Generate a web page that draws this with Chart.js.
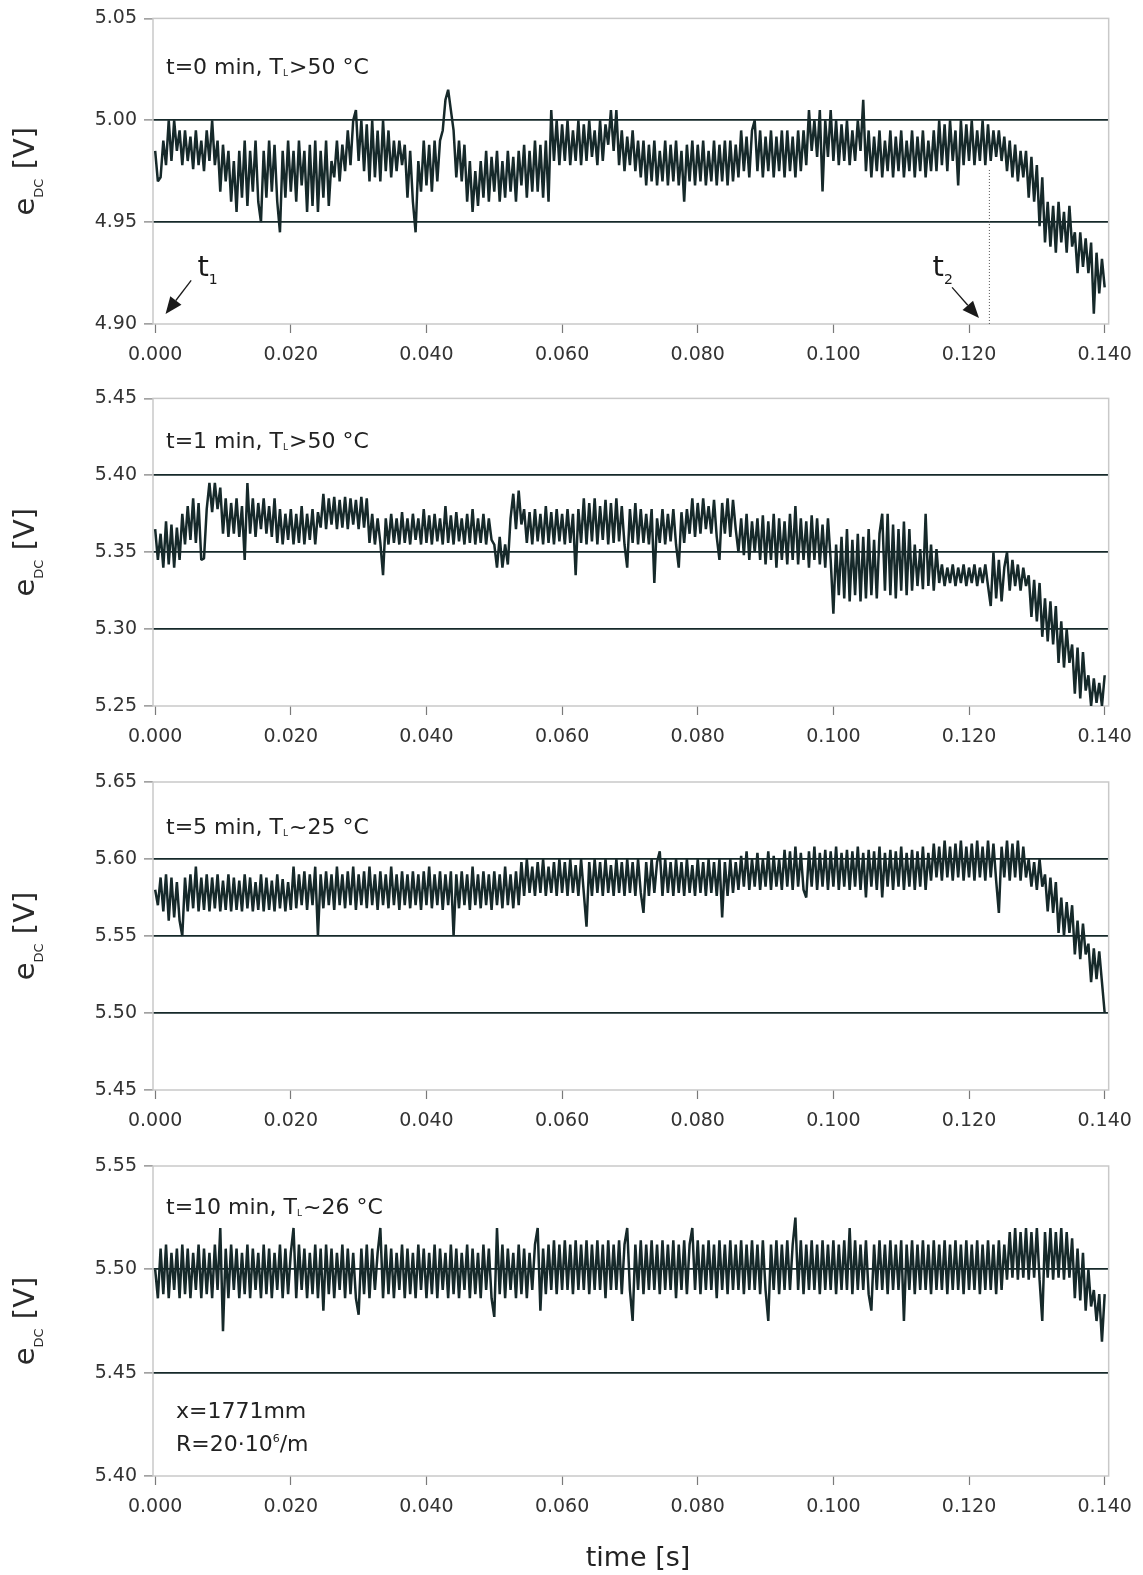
<!DOCTYPE html>
<html><head><meta charset="utf-8">
<script src="https://cdn.jsdelivr.net/npm/chart.js@4.4.1/dist/chart.umd.min.js"></script>
<style>
html,body{margin:0;padding:0;background:#fff;}
body{width:1143px;height:1575px;position:relative;overflow:hidden;}
canvas{position:absolute;left:0;}
</style></head><body>
<canvas id="c1"></canvas>
<canvas id="c2"></canvas>
<canvas id="c3"></canvas>
<canvas id="c4"></canvas>
<script>
// ---------------- data ----------------
const sampleInterval = 0.0004; // s between plotted samples
const xTickValues = [0.000, 0.020, 0.040, 0.060, 0.080, 0.100, 0.120, 0.140];
const yTicksPanel1 = [4.90, 4.95, 5.00, 5.05];
const yTicksPanel2 = [5.25, 5.30, 5.35, 5.40, 5.45];
const yTicksPanel3 = [5.45, 5.50, 5.55, 5.60, 5.65];
const yTicksPanel4 = [5.40, 5.45, 5.50, 5.55];

const panel1Values = [
4.985,4.970,4.972,4.990,4.978,5.000,4.980,5.000,4.985,4.995,
4.978,4.995,4.980,4.992,4.976,4.995,4.978,4.990,4.975,4.995,
4.980,5.000,4.978,4.990,4.965,4.988,4.970,4.985,4.960,4.980,
4.955,4.985,4.962,4.990,4.958,4.985,4.965,4.990,4.960,4.950,
4.985,4.962,4.990,4.965,4.988,4.960,4.945,4.985,4.962,4.990,
4.965,4.985,4.960,4.990,4.968,4.985,4.955,4.988,4.958,4.990,
4.955,4.985,4.962,4.990,4.958,4.980,4.972,4.990,4.970,4.988,
4.975,4.995,4.978,5.000,5.005,4.980,5.000,4.975,4.998,4.970,
5.000,4.972,4.995,4.970,5.000,4.975,4.995,4.972,4.990,4.975,
4.990,4.978,4.988,4.962,4.985,4.960,4.945,4.980,4.965,4.990,
4.968,4.988,4.965,4.990,4.970,4.990,4.995,5.010,5.015,5.005,
4.995,4.972,4.990,4.970,4.988,4.960,4.980,4.955,4.975,4.958,
4.980,4.962,4.985,4.960,4.982,4.965,4.985,4.960,4.980,4.962,
4.985,4.965,4.982,4.960,4.985,4.968,4.988,4.962,4.985,4.965,
4.990,4.965,4.988,4.962,4.990,4.960,5.005,4.980,5.000,4.978,
4.998,4.980,5.000,4.978,4.995,4.980,5.000,4.978,4.998,4.980,
5.000,4.982,4.995,4.978,5.000,4.980,4.998,4.988,5.005,4.985,
5.005,4.978,4.995,4.975,4.992,4.978,4.995,4.975,4.990,4.972,
4.990,4.968,4.988,4.970,4.990,4.968,4.985,4.970,4.990,4.968,
4.988,4.970,4.990,4.968,4.985,4.960,4.988,4.970,4.990,4.968,
4.988,4.970,4.990,4.968,4.985,4.970,4.990,4.968,4.988,4.970,
4.990,4.968,4.990,4.970,4.988,4.972,4.995,4.975,4.992,4.972,
4.995,5.000,4.975,4.995,4.972,4.992,4.975,4.995,4.972,4.992,
4.975,4.995,4.972,4.995,4.975,4.992,4.972,4.995,4.975,4.995,
4.978,5.005,4.985,5.000,4.982,5.005,4.965,5.000,4.982,5.005,
4.980,5.000,4.978,4.998,4.980,5.000,4.978,4.995,4.980,5.000,
4.985,5.010,4.975,4.995,4.972,4.992,4.975,4.995,4.972,4.990,
4.975,4.995,4.972,4.992,4.975,4.995,4.972,4.990,4.975,4.995,
4.972,4.992,4.975,4.995,4.972,4.990,4.975,4.995,4.975,5.000,
4.978,4.998,4.975,5.000,4.980,4.995,4.968,5.000,4.978,4.998,
4.980,5.000,4.978,4.995,4.980,5.000,4.978,4.998,4.980,4.995,
4.982,4.995,4.980,4.992,4.975,4.990,4.972,4.988,4.970,4.985,
4.972,4.985,4.962,4.982,4.960,4.978,4.948,4.972,4.940,4.960,
4.938,4.958,4.935,4.960,4.940,4.955,4.935,4.958,4.938,4.945,
4.925,4.945,4.928,4.942,4.925,4.940,4.905,4.935,4.915,4.932,
4.918
];

const panel2Values = [
5.365,5.345,5.362,5.340,5.370,5.342,5.368,5.340,5.366,5.345,
5.375,5.355,5.380,5.358,5.385,5.356,5.382,5.345,5.346,5.378,
5.395,5.376,5.395,5.378,5.392,5.362,5.385,5.360,5.382,5.362,
5.385,5.360,5.380,5.345,5.395,5.362,5.385,5.360,5.382,5.365,
5.385,5.362,5.380,5.360,5.385,5.356,5.378,5.355,5.375,5.358,
5.378,5.355,5.375,5.356,5.380,5.355,5.375,5.358,5.378,5.355,
5.376,5.366,5.388,5.365,5.385,5.368,5.386,5.365,5.384,5.366,
5.386,5.365,5.385,5.368,5.384,5.365,5.386,5.366,5.385,5.356,
5.375,5.355,5.372,5.356,5.335,5.372,5.355,5.375,5.356,5.372,
5.355,5.376,5.356,5.372,5.355,5.375,5.358,5.372,5.355,5.378,
5.356,5.374,5.355,5.375,5.357,5.372,5.355,5.380,5.356,5.374,
5.355,5.376,5.357,5.372,5.355,5.375,5.356,5.378,5.355,5.372,
5.356,5.375,5.355,5.372,5.358,5.355,5.340,5.360,5.340,5.355,
5.342,5.372,5.388,5.365,5.390,5.368,5.378,5.356,5.376,5.355,
5.378,5.357,5.375,5.355,5.380,5.356,5.376,5.355,5.378,5.357,
5.375,5.355,5.378,5.356,5.375,5.335,5.378,5.356,5.385,5.355,
5.382,5.357,5.385,5.355,5.380,5.358,5.384,5.355,5.382,5.356,
5.385,5.357,5.380,5.355,5.340,5.378,5.356,5.382,5.355,5.378,
5.356,5.375,5.355,5.378,5.330,5.372,5.356,5.378,5.355,5.375,
5.357,5.378,5.355,5.340,5.376,5.356,5.378,5.362,5.385,5.360,
5.382,5.362,5.385,5.365,5.380,5.362,5.384,5.360,5.345,5.382,
5.362,5.385,5.360,5.384,5.365,5.350,5.372,5.348,5.375,5.345,
5.370,5.350,5.372,5.345,5.374,5.342,5.370,5.345,5.375,5.340,
5.372,5.345,5.370,5.342,5.375,5.345,5.380,5.342,5.372,5.345,
5.370,5.340,5.374,5.345,5.372,5.342,5.368,5.340,5.372,5.345,
5.310,5.355,5.322,5.360,5.320,5.365,5.318,5.358,5.322,5.362,
5.318,5.360,5.320,5.365,5.322,5.358,5.320,5.362,5.375,5.325,
5.375,5.322,5.368,5.320,5.365,5.325,5.370,5.322,5.365,5.325,
5.355,5.328,5.352,5.326,5.375,5.328,5.355,5.325,5.352,5.330,
5.342,5.328,5.340,5.330,5.342,5.328,5.340,5.330,5.342,5.328,
5.340,5.330,5.342,5.328,5.340,5.330,5.342,5.328,5.315,5.350,
5.320,5.345,5.318,5.340,5.350,5.325,5.345,5.328,5.342,5.325,
5.340,5.328,5.335,5.308,5.332,5.305,5.330,5.295,5.320,5.292,
5.318,5.290,5.315,5.278,5.305,5.275,5.300,5.278,5.290,5.258,
5.288,5.255,5.285,5.260,5.270,5.250,5.268,5.252,5.265,5.250,
5.270
];

const panel3Values = [
5.580,5.570,5.588,5.566,5.590,5.560,5.588,5.562,5.585,5.560,
5.550,5.588,5.566,5.590,5.568,5.595,5.566,5.588,5.567,5.590,
5.566,5.588,5.568,5.590,5.566,5.586,5.567,5.590,5.566,5.588,
5.567,5.586,5.566,5.590,5.568,5.588,5.566,5.585,5.567,5.590,
5.566,5.588,5.567,5.586,5.566,5.590,5.568,5.587,5.566,5.585,
5.567,5.595,5.568,5.590,5.570,5.592,5.567,5.590,5.570,5.595,
5.550,5.590,5.568,5.592,5.570,5.590,5.567,5.595,5.570,5.590,
5.568,5.592,5.570,5.595,5.567,5.590,5.570,5.592,5.568,5.595,
5.570,5.590,5.567,5.592,5.570,5.590,5.568,5.595,5.570,5.590,
5.567,5.592,5.570,5.590,5.568,5.592,5.570,5.590,5.567,5.592,
5.570,5.595,5.568,5.590,5.570,5.592,5.567,5.590,5.570,5.592,
5.550,5.590,5.568,5.592,5.570,5.590,5.567,5.595,5.570,5.590,
5.568,5.592,5.570,5.590,5.567,5.592,5.570,5.590,5.568,5.595,
5.570,5.590,5.568,5.592,5.570,5.598,5.576,5.600,5.578,5.595,
5.576,5.598,5.578,5.600,5.576,5.595,5.578,5.598,5.576,5.600,
5.578,5.598,5.576,5.600,5.578,5.596,5.576,5.600,5.578,5.556,
5.598,5.576,5.600,5.578,5.598,5.576,5.600,5.578,5.596,5.576,
5.600,5.578,5.598,5.576,5.600,5.578,5.598,5.576,5.600,5.578,
5.565,5.598,5.576,5.600,5.578,5.598,5.605,5.576,5.600,5.578,
5.598,5.576,5.600,5.578,5.598,5.576,5.600,5.578,5.596,5.576,
5.600,5.578,5.598,5.576,5.600,5.578,5.598,5.576,5.600,5.562,
5.598,5.576,5.600,5.578,5.598,5.580,5.602,5.582,5.605,5.580,
5.600,5.582,5.604,5.580,5.600,5.582,5.605,5.580,5.602,5.582,
5.600,5.580,5.606,5.582,5.605,5.580,5.608,5.582,5.604,5.580,
5.575,5.605,5.582,5.608,5.580,5.604,5.582,5.606,5.580,5.605,
5.582,5.608,5.580,5.604,5.582,5.606,5.580,5.605,5.582,5.608,
5.580,5.604,5.575,5.606,5.582,5.605,5.580,5.608,5.575,5.604,
5.582,5.606,5.580,5.605,5.582,5.608,5.580,5.604,5.582,5.606,
5.580,5.605,5.582,5.608,5.580,5.604,5.586,5.610,5.588,5.608,
5.586,5.612,5.588,5.608,5.586,5.610,5.588,5.612,5.586,5.608,
5.588,5.610,5.586,5.612,5.588,5.608,5.586,5.612,5.588,5.610,
5.586,5.565,5.608,5.588,5.612,5.586,5.610,5.588,5.612,5.586,
5.608,5.588,5.600,5.582,5.598,5.580,5.600,5.582,5.590,5.566,
5.588,5.565,5.585,5.552,5.575,5.550,5.572,5.552,5.570,5.538,
5.560,5.535,5.558,5.538,5.545,5.520,5.542,5.522,5.540,5.520,
5.500
];

const panel4Values = [
5.500,5.486,5.510,5.488,5.512,5.486,5.508,5.490,5.510,5.486,
5.512,5.488,5.510,5.486,5.508,5.490,5.512,5.486,5.510,5.488,
5.508,5.486,5.512,5.490,5.520,5.470,5.510,5.486,5.512,5.490,
5.510,5.486,5.508,5.488,5.512,5.486,5.510,5.490,5.508,5.486,
5.512,5.488,5.510,5.486,5.508,5.490,5.512,5.486,5.510,5.488,
5.508,5.520,5.486,5.512,5.490,5.510,5.486,5.508,5.488,5.512,
5.486,5.510,5.480,5.512,5.488,5.510,5.486,5.508,5.490,5.512,
5.486,5.510,5.488,5.508,5.486,5.478,5.510,5.488,5.512,5.486,
5.510,5.490,5.508,5.520,5.486,5.512,5.488,5.510,5.486,5.508,
5.490,5.512,5.486,5.510,5.488,5.508,5.486,5.512,5.490,5.510,
5.486,5.508,5.488,5.512,5.486,5.510,5.490,5.508,5.486,5.512,
5.488,5.510,5.486,5.508,5.490,5.512,5.486,5.510,5.488,5.508,
5.486,5.512,5.490,5.510,5.486,5.477,5.520,5.488,5.512,5.486,
5.510,5.490,5.508,5.486,5.512,5.488,5.510,5.486,5.508,5.490,
5.512,5.520,5.480,5.510,5.488,5.512,5.490,5.514,5.488,5.512,
5.490,5.514,5.490,5.512,5.488,5.514,5.490,5.512,5.490,5.514,
5.488,5.512,5.490,5.514,5.490,5.512,5.486,5.514,5.490,5.512,
5.490,5.514,5.488,5.512,5.520,5.490,5.475,5.512,5.490,5.514,
5.488,5.512,5.490,5.514,5.490,5.512,5.488,5.514,5.490,5.512,
5.490,5.514,5.486,5.512,5.490,5.514,5.488,5.512,5.520,5.490,
5.514,5.488,5.512,5.490,5.514,5.490,5.512,5.486,5.514,5.490,
5.512,5.488,5.514,5.490,5.512,5.490,5.514,5.488,5.512,5.490,
5.514,5.490,5.512,5.488,5.514,5.490,5.475,5.512,5.490,5.514,
5.488,5.512,5.490,5.514,5.490,5.512,5.525,5.490,5.514,5.488,
5.512,5.490,5.514,5.490,5.512,5.488,5.514,5.490,5.512,5.490,
5.514,5.488,5.512,5.490,5.514,5.490,5.520,5.488,5.514,5.490,
5.512,5.490,5.514,5.488,5.480,5.512,5.490,5.514,5.490,5.512,
5.488,5.514,5.490,5.512,5.490,5.514,5.475,5.512,5.490,5.514,
5.488,5.512,5.490,5.514,5.490,5.512,5.488,5.514,5.490,5.512,
5.490,5.514,5.488,5.512,5.490,5.514,5.490,5.512,5.488,5.514,
5.490,5.512,5.490,5.514,5.488,5.512,5.490,5.514,5.490,5.512,
5.488,5.514,5.490,5.512,5.495,5.518,5.496,5.520,5.495,5.518,
5.496,5.520,5.495,5.518,5.496,5.520,5.495,5.475,5.518,5.496,
5.520,5.495,5.518,5.496,5.520,5.495,5.518,5.496,5.515,5.486,
5.510,5.485,5.508,5.480,5.500,5.482,5.490,5.475,5.488,5.465,
5.488
];

// ---------------- styling ----------------
const FONT = '"DejaVu Sans", "Liberation Sans", sans-serif';
const INK = '#16292a';
const FRAME = '#c9c9c9';
const TICKMARK = '#7a7a7a';
const LABEL = '#333333';

function richText(ctx, x, y, parts) {
  for (const p of parts) {
    ctx.font = p.size + 'px ' + FONT;
    ctx.fillText(p.text, x, y + (p.dy || 0));
    x += ctx.measureText(p.text).width + (p.gap || 0);
  }
}
function richWidth(ctx, parts) {
  let w = 0;
  for (const p of parts) { ctx.font = p.size + 'px ' + FONT; w += ctx.measureText(p.text).width + (p.gap || 0); }
  return w;
}

const yTitleParts = [
  {text: 'e', size: 29},
  {text: 'DC', size: 13, dy: 9},
  {text: ' [V]', size: 29}
];

const panels = [
  { id: 'c1', top: 0, height: 374, padTop: 15, padBottom: 10, values: panel1Values, yTicks: yTicksPanel1,
    label: [{text:'t=0 min, T', size:22},{text:'L', size:9, dy:2, gap:1},{text:'>50 °C', size:22}], labelBase: 56, markers: true },
  { id: 'c2', top: 380, height: 376, padTop: 17, padBottom: 10, values: panel2Values, yTicks: yTicksPanel2,
    label: [{text:'t=1 min, T', size:22},{text:'L', size:9, dy:2, gap:1},{text:'>50 °C', size:22}], labelBase: 50 },
  { id: 'c3', top: 762, height: 378, padTop: 20, padBottom: 10, values: panel3Values, yTicks: yTicksPanel3,
    label: [{text:'t=5 min, T', size:22},{text:'L', size:9, dy:2, gap:1},{text:'~25 °C', size:22}], labelBase: 52 },
  { id: 'c4', top: 1145, height: 430, padTop: 21, padBottom: 59, values: panel4Values, yTicks: yTicksPanel4,
    label: [{text:'t=10 min, T', size:22},{text:'L', size:9, dy:2, gap:1},{text:'~26 °C', size:22}], labelBase: 48, footer: true }
];

function drawArrow(ctx, x0, y0, x1, y1) {
  const ang = Math.atan2(y1 - y0, x1 - x0);
  const len = 17, hw = 7;
  const bx = x1 - len * Math.cos(ang), by = y1 - len * Math.sin(ang);
  ctx.beginPath(); ctx.moveTo(x0, y0); ctx.lineTo(bx, by); ctx.lineWidth = 1.3; ctx.strokeStyle = '#1a1a1a'; ctx.stroke();
  ctx.beginPath();
  ctx.moveTo(x1, y1);
  ctx.lineTo(bx + hw * Math.sin(ang), by - hw * Math.cos(ang));
  ctx.lineTo(bx - hw * Math.sin(ang), by + hw * Math.cos(ang));
  ctx.closePath(); ctx.fillStyle = '#1a1a1a'; ctx.fill();
}

const decorPlugin = {
  id: 'decor',
  beforeDatasetsDraw(chart) {
    const {ctx, chartArea: a} = chart;
    ctx.save();
    ctx.strokeStyle = FRAME; ctx.lineWidth = 1.5;
    ctx.strokeRect(a.left, a.top, a.right - a.left, a.bottom - a.top);
    ctx.restore();
  },
  afterDraw(chart) {
    const {ctx, chartArea: a, scales} = chart;
    const cfg = chart.options.plugins.decor;
    ctx.save();
    ctx.fillStyle = '#222';
    ctx.textBaseline = 'alphabetic';
    ctx.textAlign = 'left';
    richText(ctx, a.left + 13, a.top + cfg.labelBase, cfg.label);

    // y-axis title (rotated)
    ctx.save();
    const cy = (a.top + a.bottom) / 2;
    ctx.translate(34, cy);
    ctx.rotate(-Math.PI / 2);
    ctx.fillStyle = '#2a2a2a';
    const w = richWidth(ctx, yTitleParts);
    richText(ctx, -w / 2, 0, yTitleParts);
    ctx.restore();

    const xs = scales.x, ys = scales.y;
    if (cfg.markers) {
      const tx = xs.getPixelForValue(0.1230);
      ctx.save();
      ctx.strokeStyle = '#555'; ctx.lineWidth = 1; ctx.setLineDash([1, 2]);
      ctx.beginPath(); ctx.moveTo(tx, ys.getPixelForValue(4.9756)); ctx.lineTo(tx, a.bottom); ctx.stroke();
      ctx.restore();
      drawArrow(ctx, xs.getPixelForValue(0.00531), ys.getPixelForValue(4.9214), xs.getPixelForValue(0.00153), ys.getPixelForValue(4.9049));
      drawArrow(ctx, xs.getPixelForValue(0.11750), ys.getPixelForValue(4.9180), xs.getPixelForValue(0.12147), ys.getPixelForValue(4.9029));
      ctx.fillStyle = '#1a1a1a';
      richText(ctx, xs.getPixelForValue(0.00623), ys.getPixelForValue(4.9238), [{text:'t', size:29},{text:'1', size:14, dy:8}]);
      richText(ctx, xs.getPixelForValue(0.11463), ys.getPixelForValue(4.9238), [{text:'t', size:29},{text:'2', size:14, dy:8}]);
    }
    if (cfg.footer) {
      ctx.fillStyle = '#222';
      richText(ctx, a.left + 23, a.top + 252, [{text:'x=1771mm', size:22}]);
      richText(ctx, a.left + 23, a.top + 285, [{text:'R=20·10', size:22},{text:'6', size:11, dy:-9},{text:'/m', size:22}]);
      ctx.font = '27px ' + FONT;
      ctx.fillStyle = '#222';
      ctx.textAlign = 'center';
      ctx.fillText('time [s]', 638, a.bottom + 90);
    }
    ctx.restore();
  }
};

for (const p of panels) {
  const cv = document.getElementById(p.id);
  cv.width = 1143; cv.height = p.height;
  cv.style.top = p.top + 'px';
  const yMin = p.yTicks[0], yMax = p.yTicks[p.yTicks.length - 1];
  const points = p.values.map((v, i) => ({x: i * sampleInterval, y: v}));
  new Chart(cv, {
    type: 'line',
    data: { datasets: [{ data: points, borderColor: INK, borderWidth: 2.5, pointRadius: 0, tension: 0, fill: false, borderJoinStyle: 'bevel' }] },
    options: {
      responsive: false, animation: false, events: [],
      layout: { autoPadding: false, padding: { left: 0, right: 31, top: p.padTop, bottom: p.padBottom } },
      plugins: { legend: { display: false }, tooltip: { enabled: false },
        decor: { label: p.label, labelBase: p.labelBase, markers: !!p.markers, footer: !!p.footer } },
      scales: {
        x: {
          type: 'linear', min: -0.00032, max: 0.14059,
          afterBuildTicks: s => { s.ticks = xTickValues.map(v => ({value: v})); },
          afterFit: s => { s.height = 40; },
          border: { display: false },
          grid: { drawOnChartArea: false, drawTicks: true, tickLength: 9, tickColor: TICKMARK, tickWidth: 1.2 },
          ticks: { padding: 11, color: LABEL, font: { family: FONT, size: 19 }, maxRotation: 0, autoSkip: false,
                   callback: v => Number(v).toFixed(3) }
        },
        y: {
          type: 'linear', min: yMin, max: yMax,
          afterBuildTicks: s => { s.ticks = p.yTicks.map(v => ({value: v})); },
          afterFit: s => { s.width = 153; },
          border: { display: false },
          grid: {
            drawTicks: true, tickLength: 9, tickColor: TICKMARK, tickWidth: 1.2,
            color: c => (c.tick && c.tick.value > yMin + 1e-6 && c.tick.value < yMax - 1e-6) ? INK : 'rgba(0,0,0,0)',
            lineWidth: 1.8
          },
          ticks: { padding: 7, color: LABEL, font: { family: FONT, size: 19 }, autoSkip: false,
                   callback: v => Number(v).toFixed(2) }
        }
      }
    },
    plugins: [decorPlugin]
  });
}
</script>
</body></html>
